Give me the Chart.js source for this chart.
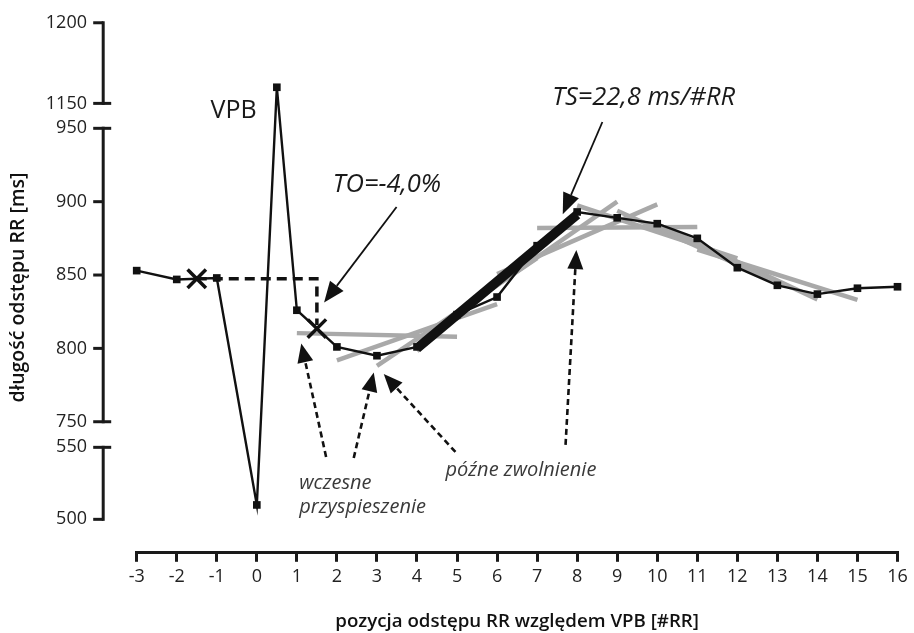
<!DOCTYPE html>
<html><head><meta charset="utf-8">
<script src="https://cdn.jsdelivr.net/npm/chart.js@4/dist/chart.umd.min.js"></script>
<style>html,body{margin:0;padding:0;background:#fff}#wrap{width:914px;height:633px;position:relative}</style>
</head><body><div id="wrap"><canvas id="c"></canvas></div>
<script>
// ---- data ----
const positions = [-3,-2,-1,0,0.5,1,2,3,4,5,6,7,8,9,10,11,12,13,14,15,16];
const rrValues  = [853,847,848,510,1160,826,801,795,801,823,835,870,893,889,885,875,855,843,837,841,842];
const yTickValues = [500,550,750,800,850,900,950,1150,1200];
const xMin = -3, xMax = 16;
// turbulence onset: mean before / after VPB
const onsetX = [-1.5, 1.5];
const onsetRR = [847.5, 813.5];
const onsetDashX = [-1.5, 1.5, 1.5];
const onsetDashRR = [847.5, 847.5, 816];
// turbulence slope (max regression line)
const slopeX = [4, 8];
const slopeRR = [800, 891.2];
// regression lines over 5-interval windows (grey)
const windowStart = [1,2,3,4,5,6,7,8,9,10,11];
const windowStartRR = [810.4,791.8,788.0,798.2,824.0,850.6,882.0,897.4,893.8,884.6,867.4];
const windowEndRR   = [808.0,830.2,861.6,890.6,900.0,898.2,882.8,861.4,845.0,833.4,833.0];
const windowSpan = 4;
// annotation texts
const labelVPB = 'VPB';
const labelTO = 'TO=-4,0%';
const labelTS = 'TS=22,8 ms/#RR';
const labelEarly = ['wczesne','przyspieszenie'];
const labelLate = 'późne zwolnienie';

// ---- broken axis mapping (real ms -> continuous scale value) ----
function toV(r){
  if (r >= 1150) return 967.0 + (r - 1150) * 1.099;
  if (r <= 550) return 732.55 - (550 - r) * 0.9816;
  return r;
}
const axisSegments = [[1200,1150],[950,750],[550,500]];
const breakEnds = [1150,950,750,550];

const mainData = positions.map((x,i)=>({x, y: toV(rrValues[i])}));
const greyDatasets = windowStart.map((s,i)=>({
  data: [{x:s, y:toV(windowStartRR[i])},{x:s+windowSpan, y:toV(windowEndRR[i])}],
  borderColor:'#a9a9a9', borderWidth:4.5, pointRadius:0, order:10, clip:false, borderCapStyle:'butt'
}));

// annotations in data coordinates (x in #RR, y in scale units)
const arrows = [
  {from:[3.49,896.4], to:[1.68,831.2], dash:false},
  {from:[8.63,954.3], to:[7.64,891.5], dash:false},
  {from:[1.73,726.0], to:[1.11,803.4], dash:true},
  {from:[2.42,725.3], to:[2.92,783.5], dash:true},
  {from:[4.96,729.4], to:[3.17,782.5], dash:true},
  {from:[7.71,734.2], to:[7.98,867.0], dash:true}
];

const annotPlugin = {
  id:'annot',
  afterDraw(chart){
    const {ctx, chartArea} = chart;
    const xs = chart.scales.x, ys = chart.scales.y;
    const px = v => xs.getPixelForValue(v);
    const py = v => ys.getPixelForValue(v);
    ctx.save();
    // broken y axis
    const ax = chartArea.left - 33.5;
    ctx.strokeStyle = '#1a1a1a';
    ctx.lineWidth = 3;
    ctx.lineCap = 'butt';
    axisSegments.forEach(([a,b])=>{
      ctx.beginPath(); ctx.moveTo(ax, py(toV(a))-1.5); ctx.lineTo(ax, py(toV(b))+1.5); ctx.stroke();
    });
    yTickValues.forEach(v=>{
      const y = py(toV(v));
      const right = breakEnds.includes(v) ? ax + 8 : ax;
      ctx.beginPath(); ctx.moveTo(ax - 10, y); ctx.lineTo(right, y); ctx.stroke();
    });
    // arrows
    arrows.forEach(a=>{
      const x0 = px(a.from[0]), y0 = py(a.from[1]), x1 = px(a.to[0]), y1 = py(a.to[1]);
      const ang = Math.atan2(y1-y0, x1-x0);
      const hl = a.dash ? 19 : 21, hw = a.dash ? 8 : 8.5;
      const bx = x1 - Math.cos(ang)*hl, by = y1 - Math.sin(ang)*hl;
      ctx.strokeStyle = '#111'; ctx.fillStyle = '#111';
      ctx.lineWidth = a.dash ? 2.6 : 1.8;
      ctx.setLineDash(a.dash ? [6,4] : []);
      ctx.beginPath(); ctx.moveTo(x0,y0); ctx.lineTo(bx,by); ctx.stroke();
      ctx.setLineDash([]);
      ctx.beginPath();
      ctx.moveTo(x1,y1);
      ctx.lineTo(bx + Math.sin(ang)*hw, by - Math.cos(ang)*hw);
      ctx.lineTo(bx - Math.sin(ang)*hw, by + Math.cos(ang)*hw);
      ctx.closePath(); ctx.fill();
    });
    // texts
    ctx.textBaseline = 'middle';
    ctx.fillStyle = '#1a1a1a';
    ctx.textAlign = 'center';
    ctx.font = '25px "Open Sans"';
    ctx.fillText(labelVPB, px(-0.58), py(961.8));
    ctx.font = 'italic 500 25.5px "Open Sans"';
    ctx.fillText(labelTO, px(3.25), py(911.3));
    ctx.fillText(labelTS, px(9.66), py(970.9));
    ctx.textAlign = 'left';
    ctx.fillStyle = '#3a3a3a';
    ctx.font = 'italic 20px "Open Sans"';
    ctx.fillText(labelEarly[0], px(1.06), py(708.2));
    ctx.fillText(labelEarly[1], px(1.06), py(691.9));
    ctx.fillText(labelLate, px(4.71), py(717.1));
    ctx.restore();
  }
};

new Chart(document.getElementById('c'), {
  type:'line',
  data:{ datasets:[
    ...greyDatasets,
    {data: mainData, borderColor:'#111', borderWidth:2.4, pointStyle:'rect', pointRadius:5.4,
     pointBackgroundColor:'#111', pointBorderColor:'#111', pointBorderWidth:0, order:5, clip:false, tension:0},
    {data: onsetDashX.map((x,i)=>({x, y:toV(onsetDashRR[i])})), borderColor:'#111', borderWidth:3.5,
     borderDash:[10,6], pointRadius:0, order:4, clip:false},
    {data: slopeX.map((x,i)=>({x, y:toV(slopeRR[i])})), borderColor:'#111', borderWidth:9.5,
     pointRadius:0, order:2, clip:false, borderCapStyle:'butt'},
    {data: onsetX.map((x,i)=>({x, y:toV(onsetRR[i])})), showLine:false, pointStyle:'crossRot',
     pointRadius:13, pointBorderWidth:3.5, pointBorderColor:'#111', order:1, clip:false}
  ]},
  options:{
    responsive:true, maintainAspectRatio:false, animation:false, devicePixelRatio:1,
    layout:{padding:{top:22.7, right:12.3, left:0, bottom:0}},
    plugins:{legend:{display:false}, tooltip:{enabled:false}},
    scales:{
      x:{ type:'linear', min:xMin, max:xMax,
        ticks:{stepSize:1, color:'#222', font:{family:'"Open Sans"', size:18}, padding:4, maxRotation:0, autoSkip:false},
        grid:{drawOnChartArea:false, drawTicks:true, tickLength:9.5, lineWidth:3, color:'#1a1a1a'},
        border:{display:true, width:3, color:'#1a1a1a'},
        title:{display:true, text:'pozycja odstępu RR względem VPB [#RR]', color:'#111',
          font:{family:'"Open Sans"', size:18.7, weight:'600'}, padding:{top:0,bottom:0.5}},
        afterFit(s){ s.height = 80.7; }
      },
      y:{ type:'linear', min:661, max:1022,
        afterBuildTicks(s){ s.ticks = yTickValues.map(v=>({value: toV(v)})); },
        ticks:{ color:'#222', font:{family:'"Open Sans"', size:18}, padding:0,
          callback:(v,i)=> String(yTickValues[i]) },
        grid:{display:true, drawOnChartArea:false, drawTicks:true, tickLength:49.7, color:'rgba(0,0,0,0)', lineWidth:0},
        border:{display:false},
        title:{display:true, text:'długość odstępu RR [ms]', color:'#111',
          font:{family:'"Open Sans"', size:19.5, weight:'600'}, padding:{top:6.5,bottom:0}},
        afterFit(s){ s.width = 136.7; }
      }
    }
  },
  plugins:[annotPlugin]
});
</script></body></html>
